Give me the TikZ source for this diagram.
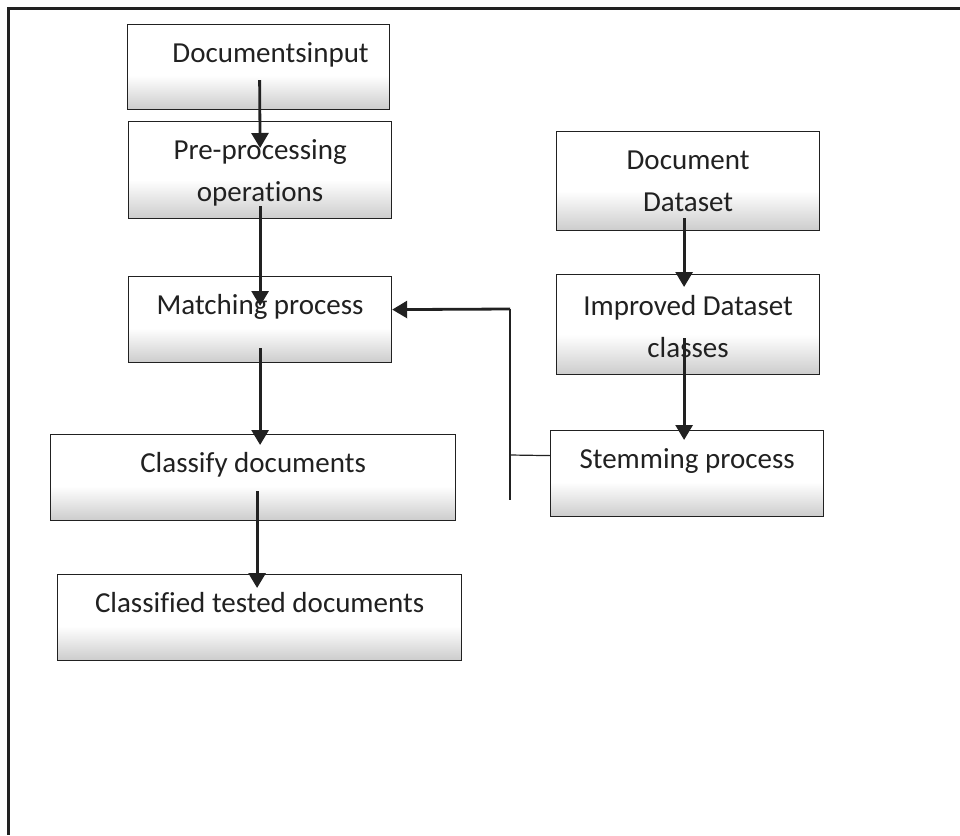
\documentclass[tikz,border=0pt]{standalone}
\usepackage{fontspec}
\setmainfont[Ligatures=NoCommon]{Carlito}
\usepackage{tikz}
\usetikzlibrary{shapes}
\usetikzlibrary{arrows.meta}
\usetikzlibrary{calc}
\usetikzlibrary{positioning}
\definecolor{boxgray}{gray}{0.80}
\definecolor{inkgray}{gray}{0.13}
\pgfdeclareverticalshading{boxfade}{100bp}{color(0bp)=(boxgray); color(25bp)=(boxgray); color(45bp)=(white); color(100bp)=(white)}

\begin{document}
\begin{tikzpicture}[x=1pt,y=-1pt]
			\tikzset{stage/.style = {shape=rectangle,draw=inkgray,line width=1.2pt,
					shading=boxfade,anchor=north west,inner sep=0pt,align=center,
					text=inkgray,font=\fontsize{29}{42}\selectfont,
					text height=38pt,text depth=47pt}}
			\tikzset{edge/.style = {-{Triangle[length=15pt,width=17pt]},draw=inkgray,line width=2.8pt}}
			\tikzset{link/.style = {draw=inkgray,line width=1.2pt}}
			\useasboundingbox (0,0) rectangle (960,835);
			\draw[inkgray,line width=3pt] (960,8) -- (8,8) -- (8,835);
			
			% vertices
			\node[stage,minimum width=262pt] (a) at (127,24) {\hspace*{24pt}Documentsinput};
			\node[stage,minimum width=263pt,text height=80pt,text depth=17pt] (b) at (128,121) {Pre-processing\\operations};
			\node[stage,minimum width=263pt,text depth=48pt] (c) at (128,276) {Matching process};
			\node[stage,minimum width=405pt,text depth=48pt] (d) at (50,434) {Classify documents};
			\node[stage,minimum width=404pt,text depth=48pt] (e) at (57,574) {Classified tested documents};
			\node[stage,minimum width=263pt,text height=80pt,text depth=19pt] (f) at (556,131) {Document\\Dataset};
			\node[stage,minimum width=263pt,text height=83pt,text depth=17pt] (g) at (556,274) {Improved Dataset\\classes};
			\node[stage,minimum width=273pt,text depth=48pt] (h) at (550,430) {Stemming process};
			\coordinate (jtop) at (510,309);
			\coordinate (jmid) at (510,455);
			\coordinate (jbot) at (510,500);
			
			%edges
			\draw[edge] ($(a.south)+(1,-30)$) to ($(b.north)+(0,27)$);
			\draw[edge] ($(b.south)+(0,-13)$) to ($(c.north)+(0,30)$);
			\draw[edge] ($(c.south)+(0,-15)$) to ($(c.south |- d.north)+(0,11)$);
			\draw[edge] ($(d.south)+(4,-30)$) to ($(d.south |- e.north)+(4,14)$);
			\draw[edge] ($(f.south)+(-4,-13)$) to ($(g.north)+(-4,13)$);
			\draw[edge] ($(g.south)+(-4,-37)$) to ($(g.south |- h.north)+(-4,10)$);
			\draw[link] (jtop) to (jbot);
			\draw[link] ($(h.west)+(0,-18)$) to (jmid);
			\draw[edge] (jtop) to ($(c.east)+(0,-10)$);
			
\end{tikzpicture}
\end{document}
